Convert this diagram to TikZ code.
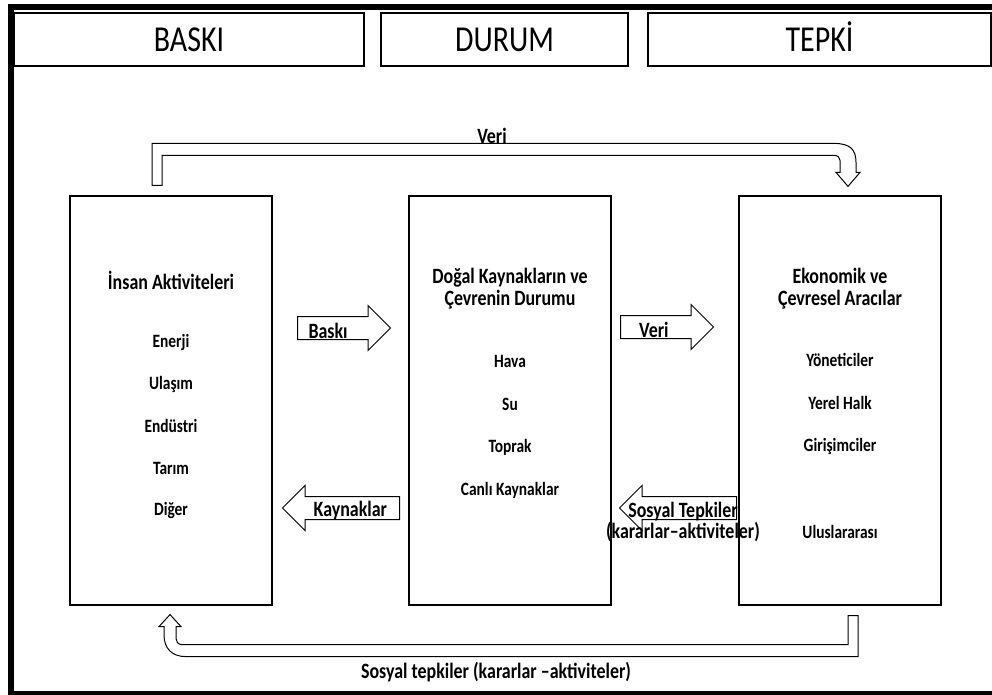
\documentclass[tikz,border=0pt]{standalone}
\usepackage{fontspec}
\setmainfont{Carlito}[FakeStretch=0.82]
\usetikzlibrary{shapes.arrows,calc}
\tikzset{
  hdr/.style ={draw=black,line width=1.4pt,minimum height=39.75pt,inner sep=0pt,
               text height=17.3pt,text depth=0pt,font=\fontsize{27.4}{29}\selectfont},
  blk/.style ={draw=black,line width=0.9pt,minimum width=151.5pt,
               minimum height=306.75pt,inner sep=0pt},
  ttl/.style ={font=\fontsize{16.4}{16.5}\selectfont\bfseries,align=center,inner sep=1pt},
  itm/.style ={font=\fontsize{14.1}{15}\selectfont\bfseries,inner sep=1pt},
  lbl/.style ={font=\fontsize{16.4}{16}\selectfont\bfseries,inner sep=1pt},
  arr/.style ={single arrow,draw=black,fill=white,line width=0.75pt,inner xsep=0pt,
               inner ysep=8.25pt,single arrow head extend=8.25pt,anchor=tail},
  bent/.style={draw=black,fill=white,line width=0.75pt,line join=miter},
}
\begin{document}
\begin{tikzpicture}[x=0.75pt,y=-0.75pt]
\useasboundingbox (0,0) rectangle (992,695);
% outer frame, right side runs off the page
\draw[line width=4.5pt] (11,7) rectangle (1012,694);

\node[hdr,minimum width=262.5pt] (hBaski) at (189,39.5) {BASKI};
\node[hdr,minimum width=185.25pt] (hDurum) at (504.5,39.5) {DURUM};
\node[hdr,minimum width=257.25pt] (hTepki) at (819.5,39.5) {TEPKİ};

% the three columns
\node[blk] (act) at (171,400.5) {};
\node[blk] (dur) at (510,400.5) {};
\node[blk] (eco) at (840,400.5) {};

\node[ttl] (actT) at (171,280) {İnsan Aktiviteleri};
\foreach \t [count=\i] in {Enerji,Ulaşım,Endüstri,Tarım,Diğer}
  \node[itm] (act\i) at (171,{300+42*\i}) {\t};

\node[ttl] (durT) at (510,289) {Doğal Kaynakların ve\\Çevrenin Durumu};
\foreach \t [count=\i] in {Hava,Su,Toprak,Canlı Kaynaklar}
  \node[itm] (dur\i) at (510,{318+43*\i}) {\t};

\node[ttl] (ecoT) at (840,289) {Ekonomik ve\\Çevresel Aracılar};
\foreach \t [count=\i] in {Yöneticiler,Yerel Halk,Girişimciler}
  \node[itm] (eco\i) at (840,{317+43*\i}) {\t};
\node[itm] (eco4) at (840,532) {Uluslararası};

% block arrows between the columns
\node[arr,minimum height=69.75pt] (aBaski) at (297,328) {};
\node[lbl,yshift=-2pt] (tBaski) at ($(aBaski.tail)!0.33!(aBaski.tip)$) {Baskı};
\node[arr,minimum height=69.75pt] (aVeri) at (620,327) {};
\node[lbl,yshift=-2pt] (tVeri) at ($(aVeri.tail)!0.36!(aVeri.tip)$) {Veri};
\node[arr,minimum height=87.75pt,shape border rotate=180] (aKayn) at (400,508) {};
\node[lbl,yshift=-2pt] (tKayn) at ($(aKayn.tail)!0.42!(aKayn.tip)$) {Kaynaklar};
\node[arr,minimum height=87.75pt,shape border rotate=180] (aSos) at (737,508) {};
\node[lbl,align=center] (tSos) at (683,522) {Sosyal Tepkiler\\(kararlar–aktiviteler)};

% bent arrow over the top
\coordinate (vTail) at ($(act.north)+(-14,-10)$);
\coordinate (vTip) at ($(eco.north)+(8,-9)$);
\draw[bent] ($(vTail)+(-5,0)$) -- ($(vTail)+(-5,-42)$) -- ($(vTip)+(-14,-43)$)
  .. controls ($(vTip)+(2,-43)$) and ($(vTip)+(8,-37)$) .. ($(vTip)+(8,-24)$)
  -- ($(vTip)+(8,-14)$) -- ($(vTip)+(12,-14)$) -- (vTip) -- ($(vTip)+(-12,-14)$)
  -- ($(vTip)+(-8,-14)$) -- ($(vTip)+(-8,-26)$)
  .. controls ($(vTip)+(-8,-29)$) and ($(vTip)+(-10,-31)$) .. ($(vTip)+(-14,-31)$)
  -- ($(vTail)+(5,-30)$) -- ($(vTail)+(5,0)$) -- cycle;
\node[lbl] (tTop) at (492,136) {Veri};

% bent arrow along the bottom
\coordinate (sTail) at ($(eco.south)+(13,10)$);
\coordinate (sTip) at ($(act.south)+(-1,9)$);
\draw[bent] ($(sTail)+(5,0)$) -- ($(sTail)+(5,41)$) -- ($(sTip)+(16,42)$)
  .. controls ($(sTip)+(2,42)$) and ($(sTip)+(-6,34)$) .. ($(sTip)+(-6,20)$)
  -- ($(sTip)+(-6,12)$) -- ($(sTip)+(-11,12)$) -- (sTip) -- ($(sTip)+(11,12)$)
  -- ($(sTip)+(6,12)$) -- ($(sTip)+(6,24)$)
  .. controls ($(sTip)+(6,27)$) and ($(sTip)+(8,30)$) .. ($(sTip)+(12,30)$)
  -- ($(sTail)+(-5,29)$) -- ($(sTail)+(-5,0)$) -- cycle;
\node[lbl] (tBot) at (496,672) {Sosyal tepkiler (kararlar –aktiviteler)};
\end{tikzpicture}
\end{document}
